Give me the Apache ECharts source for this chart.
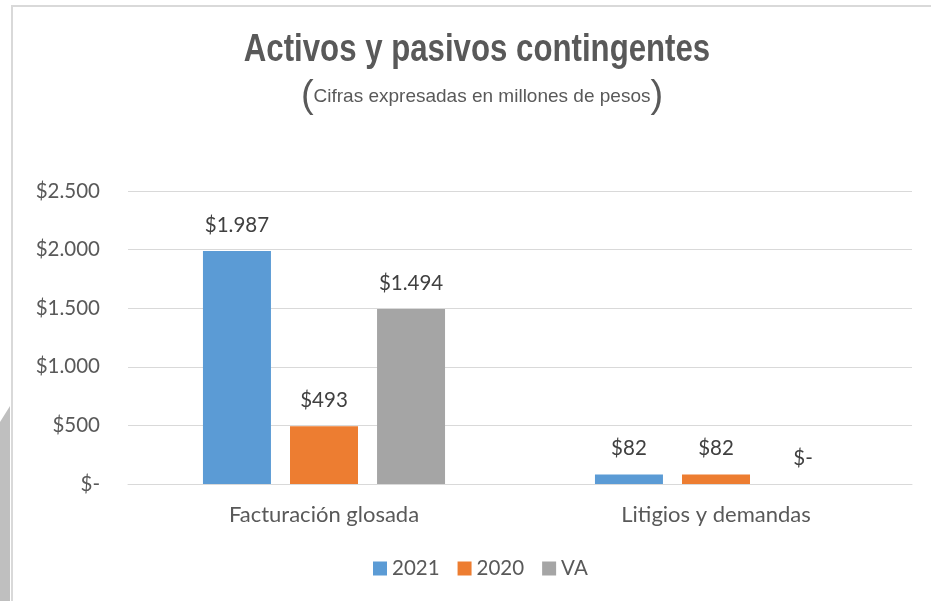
<!DOCTYPE html>
<html>
<head>
<meta charset="utf-8">
<script src="https://cdn.jsdelivr.net/npm/echarts@6/dist/echarts.min.js"></script>
<style>
html,body{margin:0;padding:0;background:#fff;}
#c{width:931px;height:601px;}
</style>
</head>
<body>
<div id="c"></div>
<script>
const categories = ['Facturación glosada', 'Litigios y demandas'];
const seriesNames = ['2021', '2020', 'VA'];
const values2021 = [1987, 82];
const values2020 = [493, 82];
const valuesVA = [1494, 0];
const yTicks = [0, 500, 1000, 1500, 2000, 2500];
const colors = ['#5b9bd5', '#ed7d31', '#a5a5a5'];

function fmt(v) {
  if (v === 0) return '$-';
  return '$' + String(v).replace(/\B(?=(\d{3})+(?!\d))/g, '.');
}

const font = 'Lato, "Open Sans", sans-serif';
const sans = '"Liberation Sans", Arial, sans-serif';
const chart = echarts.init(document.getElementById('c'));
const dataSets = [values2021, values2020, valuesVA];

chart.setOption({
  animation: false,
  textStyle: { fontFamily: font },
  graphic: [
    { type: 'rect', shape: { x: 12, y: 6, width: 940, height: 620 }, style: { fill: '#fff', stroke: '#d9d9d9', lineWidth: 2 }, z: -10 },
    { type: 'polygon', shape: { points: [[0, 422], [10, 406], [10, 601], [0, 601]] }, style: { fill: '#bfbfbf' }, z: -9 },
    {
      type: 'text', x: 477, y: 50, scaleX: 0.8, scaleY: 1,
      style: { text: 'Activos y pasivos contingentes', fill: '#595959', align: 'center', verticalAlign: 'middle', font: 'bold 39px ' + sans }
    },
    {
      type: 'text', x: 482, y: 97,
      style: {
        text: '{p|(}{t|Cifras expresadas en millones de pesos}{p|)}',
        align: 'center', verticalAlign: 'middle',
        rich: {
          p: { fontSize: 38, fill: '#595959', fontFamily: sans, fontWeight: 'lighter' },
          t: { fontSize: 19, fill: '#595959', fontFamily: sans }
        }
      }
    }
  ],
  legend: {
    top: 553, left: 368,
    itemWidth: 14, itemHeight: 14, itemGap: 18,
    icon: 'rect',
    textStyle: { color: '#595959', fontSize: 20.5, fontFamily: font },
    data: seriesNames
  },
  grid: { left: 128, right: 19, top: 191, bottom: 117, containLabel: false },
  xAxis: {
    type: 'category', data: categories,
    axisLine: { lineStyle: { color: '#d9d9d9', width: 1 } },
    axisTick: { show: false },
    axisLabel: { color: '#595959', fontSize: 22, margin: 20, fontFamily: font }
  },
  yAxis: {
    type: 'value', min: yTicks[0], max: yTicks[yTicks.length - 1], interval: 500,
    axisLine: { show: false }, axisTick: { show: false },
    splitLine: { lineStyle: { color: '#d9d9d9', width: 1 } },
    axisLabel: { color: '#595959', fontSize: 20.5, margin: 28, fontFamily: font, formatter: fmt }
  },
  series: seriesNames.map((n, i) => ({
    name: n, type: 'bar', data: dataSets[i],
    barWidth: 68, barGap: '28%',
    itemStyle: { color: colors[i] },
    label: { show: true, position: 'top', distance: 15, color: '#404040', fontSize: 20.5, fontFamily: font, formatter: p => fmt(p.value) }
  }))
});
</script>
</body>
</html>
